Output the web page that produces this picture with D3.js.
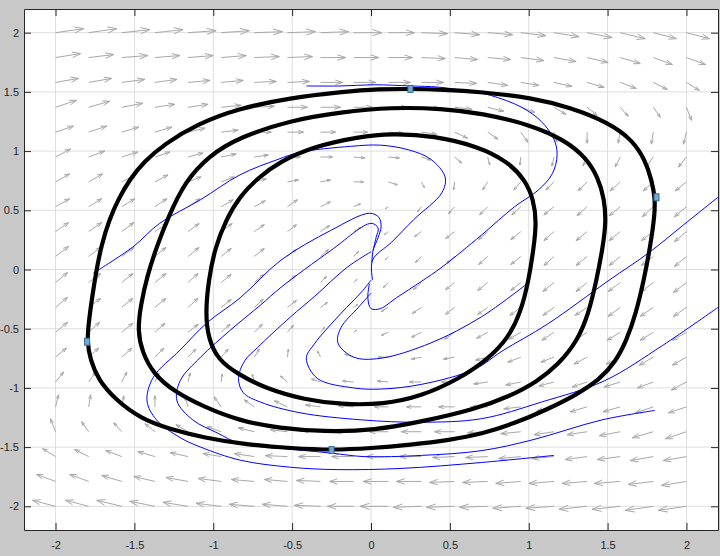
<!DOCTYPE html>
<html>
<head>
<meta charset="utf-8">
<script src="https://cdn.jsdelivr.net/npm/d3@7"></script>
<style>
  body { margin: 0; background: #c8c8c8; }
  text { font-family: "Liberation Sans", Arial, sans-serif; font-size: 11px; fill: #262626; }
</style>
</head>
<body>
<script>
// tick values
var xTicks = [-2, -1.5, -1, -0.5, 0, 0.5, 1, 1.5, 2];
var yTicks = [-2, -1.5, -1, -0.5, 0, 0.5, 1, 1.5, 2];

// quiver grid
var gridX = [-2, -1.79, -1.58, -1.37, -1.16, -0.95, -0.74, -0.53, -0.32, -0.11,
             0.11, 0.32, 0.53, 0.74, 0.95, 1.16, 1.37, 1.58, 1.79, 2];
var gridY = [2, 1.79, 1.58, 1.37, 1.16, 0.95, 0.74, 0.53, 0.32, 0.11,
             -0.11, -0.32, -0.53, -0.74, -0.95, -1.16, -1.37, -1.58, -1.79, -2];

// quiver components, one row per gridY value
var U = [
  [28,28,28,28,28,28,28,28,28,28, 26,26,25,25,25,25,25,25,23,23],
  [25,25,26,25,25,25,25,25,25,25, 24,24,23,23,23,22,21,20,19,19],
  [23,23,23,22,22,22,22,22,22,22, 22,22,22,20,18,18,17,16,14,13],
  [21,21,21,20,20,20,20,20,20,19, 19,18,17,16,14,12,10,8,7,5],
  [18,18,17,17,17,17,17,16,15,14, 15,15,13,10,7,3,0,-2,-2,-3],
  [15,16,16,15,15,15,14,13,12,11, 11,9,7,2,-1,-2,-4,-5,-7,-8],
  [14,14,14,13,13,13,12,11,10,10, 9,3,-1,-5,-7,-8,-9,-10,-10,-11],
  [14,13,13,12,12,12,11,10,10,7, -3,-4,-6,-8,-9,-10,-10,-11,-11,-12],
  [13,13,12,12,11,11,10,9,9,7, -4,-7,-9,-9,-10,-10,-11,-11,-12,-12],
  [13,12,12,11,11,10,10,9,8,5, -3,-6,-8,-9,-10,-10,-11,-11,-12,-12],
  [12,12,11,11,10,10,9,8,6,3, -5,-8,-9,-10,-10,-11,-11,-12,-12,-13],
  [12,12,11,11,10,10,9,9,7,4, -7,-9,-9,-10,-11,-11,-12,-12,-13,-13],
  [12,11,11,10,10,9,8,6,4,3, -7,-10,-10,-11,-12,-12,-12,-13,-13,-14],
  [11,10,10,9,8,7,5,1,-3,-9, -10,-10,-11,-12,-13,-13,-13,-14,-14,-14],
  [8,7,5,4,2,1,-2,-7,-9,-11, -11,-12,-13,-14,-15,-15,-15,-16,-16,-15],
  [3,2,2,0,-3,-7,-10,-13,-15,-15, -14,-15,-16,-17,-17,-17,-17,-17,-18,-18],
  [-5,-7,-8,-10,-12,-14,-16,-17,-18,-19, -19,-20,-20,-20,-20,-20,-20,-21,-21,-21],
  [-13,-14,-16,-17,-18,-18,-20,-22,-22,-22, -22,-22,-22,-22,-22,-22,-22,-23,-23,-23],
  [-19,-19,-20,-21,-22,-23,-23,-23,-24,-24, -25,-25,-25,-25,-25,-25,-25,-26,-25,-25],
  [-23,-23,-25,-25,-25,-25,-25,-25,-26,-26, -28,-28,-28,-28,-28,-28,-28,-28,-28,-28]
];
var V = [
  [4,4,3,3,2,2,1,1,1,0, 0,-1,-2,-2,-3,-4,-5,-6,-6,-6],
  [4,3,2,2,2,2,1,1,0,0, 0,-1,-2,-2,-3,-4,-5,-6,-7,-7],
  [4,4,3,3,2,2,1,1,0,0, 0,0,-1,-3,-3,-4,-5,-6,-7,-8],
  [7,6,4,3,3,2,1,0,0,0, 0,-1,-2,-4,-5,-7,-8,-9,-10,-13],
  [6,6,5,5,4,2,0,0,0,0, -1,-2,-6,-7,-10,-10,-11,-11,-12,-12],
  [8,6,5,5,4,3,2,0,0,-1, -1,-3,-6,-8,-8,-9,-9,-10,-10,-10],
  [8,8,7,7,5,5,3,2,2,0, -3,-6,-8,-8,-8,-8,-9,-9,-9,-9],
  [8,8,8,8,8,7,6,7,5,3, -2,-5,-7,-8,-8,-8,-9,-9,-10,-10],
  [9,9,9,8,8,8,7,7,6,4, -3,-5,-7,-8,-8,-9,-9,-9,-9,-10],
  [10,9,9,9,9,8,8,7,7,5, -3,-6,-7,-8,-8,-9,-9,-9,-9,-10],
  [10,9,9,9,9,8,8,7,6,3, -5,-7,-7,-8,-8,-9,-9,-9,-9,-10],
  [10,9,9,9,9,8,8,7,5,3, -4,-6,-7,-7,-8,-8,-8,-9,-9,-9],
  [10,10,9,9,8,8,8,7,5,2, -3,-5,-7,-6,-7,-8,-8,-8,-8,-8],
  [9,9,9,9,8,8,8,8,6,3, 0,-2,-2,-3,-5,-5,-7,-7,-8,-8],
  [10,10,10,9,9,8,8,6,3,1, 1,0,0,-2,-3,-4,-5,-5,-6,-8],
  [12,12,11,11,10,10,7,6,2,1, 0,0,0,0,-2,-4,-5,-5,-6,-6],
  [13,10,9,8,7,5,4,2,1,0, 0,0,0,-1,-2,-3,-3,-4,-6,-7],
  [8,7,6,5,4,3,3,1,0,0, 0,0,-1,-1,-2,-2,-3,-3,-4,-4],
  [7,7,6,5,4,3,2,2,1,0, 0,0,-1,-1,-2,-2,-2,-2,-3,-4],
  [6,6,6,5,4,3,2,2,1,0, 0,-1,-1,-1,-2,-2,-3,-3,-4,-4]
];

// closed orbits (black)
var outerOrbit = [[0.25,1.525],[0.45,1.52],[0.70,1.50],[1.02,1.45],[1.26,1.37],[1.51,1.24],[1.66,1.09],[1.74,0.92],[1.78,0.75],[1.80,0.61],[1.80,0.47],[1.77,0.19],[1.73,-0.09],[1.68,-0.37],[1.62,-0.60],[1.55,-0.78],[1.45,-0.93],[1.30,-1.06],[1.12,-1.18],[0.91,-1.30],[0.70,-1.39],[0.50,-1.44],[0.25,-1.48],[0.0,-1.51],[-0.25,-1.525],[-0.50,-1.51],[-0.79,-1.48],[-1.06,-1.42],[-1.27,-1.35],[-1.46,-1.26],[-1.62,-1.10],[-1.73,-0.93],[-1.78,-0.76],[-1.80,-0.61],[-1.79,-0.45],[-1.77,-0.25],[-1.74,0.0],[-1.71,0.20],[-1.66,0.42],[-1.60,0.60],[-1.53,0.76],[-1.44,0.91],[-1.31,1.06],[-1.10,1.23],[-0.84,1.36],[-0.51,1.45],[-0.19,1.50],[0.06,1.525]];
var middleOrbit = [[0.13,1.37],[0.45,1.36],[0.70,1.32],[1.02,1.22],[1.23,1.09],[1.36,0.95],[1.44,0.78],[1.48,0.59],[1.49,0.40],[1.47,0.19],[1.43,-0.09],[1.38,-0.37],[1.31,-0.60],[1.19,-0.80],[1.05,-0.95],[0.88,-1.07],[0.66,-1.18],[0.34,-1.28],[0.02,-1.36],[-0.30,-1.37],[-0.58,-1.34],[-0.83,-1.28],[-1.06,-1.16],[-1.25,-1.03],[-1.38,-0.88],[-1.45,-0.70],[-1.48,-0.52],[-1.46,-0.30],[-1.42,-0.06],[-1.36,0.19],[-1.28,0.46],[-1.18,0.74],[-1.03,0.96],[-0.83,1.12],[-0.51,1.26],[-0.19,1.33]];
var innerOrbit = [[-0.08,1.12],[0.13,1.15],[0.40,1.13],[0.68,1.04],[0.87,0.91],[0.98,0.75],[1.03,0.59],[1.05,0.40],[1.03,0.17],[1.00,-0.09],[0.95,-0.36],[0.87,-0.58],[0.74,-0.76],[0.55,-0.93],[0.32,-1.07],[0.08,-1.14],[-0.19,-1.14],[-0.42,-1.10],[-0.66,-1.01],[-0.85,-0.88],[-0.97,-0.76],[-1.03,-0.59],[-1.05,-0.37],[-1.03,-0.09],[-0.99,0.18],[-0.92,0.42],[-0.83,0.62],[-0.72,0.77],[-0.58,0.91],[-0.36,1.04]];

// trajectories (blue)
var trajTop = [[-0.41,1.55],[-0.19,1.55],[0.02,1.56],[0.25,1.55],[0.43,1.54],[0.64,1.50],[0.76,1.47],[0.955,1.37],[1.08,1.25],[1.16,1.10],[1.18,0.97],[1.15,0.81],[1.06,0.67],[0.91,0.53],[0.70,0.29],[0.45,0.02],[0.32,-0.10],[0.16,-0.24],[0.06,-0.33],[0.0,-0.33],[-0.02,-0.24],[-0.01,-0.12]];
var trajLeft = [[-1.76,-0.03],[-1.51,0.19],[-1.34,0.39],[-1.08,0.59],[-0.83,0.80],[-0.59,0.93],[-0.45,0.99],[-0.13,1.04],[0.06,1.05],[0.24,1.01],[0.38,0.93],[0.47,0.78],[0.45,0.65],[0.27,0.42],[0.13,0.23],[0.01,0.08],[0.01,-0.09]];
var trajRight = [[2.2,0.61],[1.975,0.37],[1.76,0.14],[1.51,-0.09],[1.12,-0.46],[0.83,-0.69],[0.66,-0.84],[0.32,-0.97],[0.06,-1.01],[-0.11,-1.00],[-0.34,-0.92],[-0.41,-0.75],[-0.36,-0.63],[-0.19,-0.37],[-0.06,-0.19],[0.0,-0.09]];
var trajMid = [[0.99,-0.12],[0.70,-0.40],[0.38,-0.62],[0.06,-0.75],[-0.11,-0.74],[-0.21,-0.62],[-0.19,-0.49],[-0.08,-0.32],[0.0,-0.20]];
var trajLow1 = [[1.16,-1.57],[0.70,-1.63],[0.19,-1.68],[-0.21,-1.69],[-0.51,-1.67],[-0.83,-1.61],[-1.08,-1.50],[-1.21,-1.42],[-1.36,-1.27],[-1.42,-1.11],[-1.38,-0.91],[-1.21,-0.68],[-1.04,-0.45],[-0.83,-0.24],[-0.57,0.08],[-0.255,0.33],[-0.01,0.475],[0.05,0.44],[0.064,0.36],[0.045,0.27],[0.013,0.16],[0.006,0.06]];
var trajLow2 = [[1.80,-1.19],[1.465,-1.27],[1.02,-1.44],[0.70,-1.53],[0.32,-1.57],[-0.045,-1.58],[-0.255,-1.55],[-0.57,-1.51],[-0.83,-1.47],[-0.975,-1.38],[-1.13,-1.27],[-1.23,-1.11],[-1.21,-0.94],[-1.08,-0.74],[-0.89,-0.51],[-0.70,-0.30],[-0.57,-0.15],[-0.255,0.16],[0.0,0.39],[0.045,0.35],[0.032,0.27],[0.013,0.16]];
var trajLow3 = [[2.2,-0.32],[1.85,-0.64],[1.48,-0.94],[1.08,-1.12],[0.70,-1.26],[0.32,-1.29],[-0.06,-1.27],[-0.45,-1.21],[-0.70,-1.12],[-0.81,-1.04],[-0.84,-0.92],[-0.80,-0.77],[-0.72,-0.66],[-0.51,-0.40],[-0.36,-0.23],[-0.15,0.02],[0.0,0.15]];

// marked points
var markers = [[0.25,1.525],[1.81,0.61],[-1.80,-0.61],[-0.25,-1.525]];

var W = 720, H = 556;
var margin = {left: 24, right: 718, top: 9, bottom: 530};

var x = d3.scaleLinear().domain([-2.2, 2.2]).range([margin.left, margin.right]);
var y = d3.scaleLinear().domain([-2.2, 2.2]).range([margin.bottom, margin.top]);

var svg = d3.select("body").append("svg")
    .attr("width", W)
    .attr("height", H);

svg.append("rect").attr("width", W).attr("height", H).attr("fill", "#c8c8c8");

svg.append("defs").append("clipPath").attr("id", "clip")
  .append("rect")
    .attr("x", margin.left).attr("y", margin.top)
    .attr("width", margin.right - margin.left).attr("height", margin.bottom - margin.top);

svg.append("rect")
    .attr("x", margin.left).attr("y", margin.top)
    .attr("width", margin.right - margin.left).attr("height", margin.bottom - margin.top)
    .attr("fill", "#ffffff");

// grid
var grid = svg.append("g");
grid.selectAll("line.gx").data(xTicks).enter().append("line")
    .attr("x1", function(d) { return x(d); }).attr("x2", function(d) { return x(d); })
    .attr("y1", margin.top).attr("y2", margin.bottom)
    .attr("stroke", "#dedede").attr("stroke-width", 1);
grid.selectAll("line.gy").data(yTicks).enter().append("line")
    .attr("y1", function(d) { return y(d); }).attr("y2", function(d) { return y(d); })
    .attr("x1", margin.left).attr("x2", margin.right)
    .attr("stroke", "#dedede").attr("stroke-width", 1);

var plot = svg.append("g").attr("clip-path", "url(#clip)");

// quiver arrows
var kx = 1 / 157, ky = 1 / 118;
var arrows = [];
gridY.forEach(function(gy, j) {
  gridX.forEach(function(gx, i) {
    arrows.push({x0: gx, y0: gy, x1: gx + U[j][i] * kx, y1: gy + V[j][i] * ky});
  });
});
var alpha = 0.33, beta = 0.33;
var quiver = plot.append("g")
    .attr("stroke", "#a8a8a8").attr("stroke-width", 1).attr("fill", "none");
quiver.selectAll("path").data(arrows).enter().append("path")
    .attr("d", function(d) {
      var ax = x(d.x0), ay = y(d.y0), bx = x(d.x1), by = y(d.y1);
      var u = bx - ax, v = by - ay;
      var h1x = bx - alpha * (u + beta * v), h1y = by - alpha * (v - beta * u);
      var h2x = bx - alpha * (u - beta * v), h2y = by - alpha * (v + beta * u);
      return "M" + ax + "," + ay + "L" + bx + "," + by +
             "M" + h1x + "," + h1y + "L" + bx + "," + by + "L" + h2x + "," + h2y;
    });

// blue trajectories
var openLine = d3.line()
    .x(function(d) { return x(d[0]); })
    .y(function(d) { return y(d[1]); })
    .curve(d3.curveCatmullRom);
[trajTop, trajLeft, trajRight, trajMid, trajLow1, trajLow2, trajLow3].forEach(function(t) {
  plot.append("path")
      .datum(t)
      .attr("d", openLine)
      .attr("fill", "none")
      .attr("stroke", "#0000ff")
      .attr("stroke-width", 1);
});

// black orbits
var closedLine = d3.line()
    .x(function(d) { return x(d[0]); })
    .y(function(d) { return y(d[1]); })
    .curve(d3.curveBasisClosed);
[outerOrbit, middleOrbit, innerOrbit].forEach(function(o) {
  plot.append("path")
      .datum(o)
      .attr("d", closedLine)
      .attr("fill", "none")
      .attr("stroke", "#000000")
      .attr("stroke-width", 4.2)
      .attr("stroke-linejoin", "round");
});

// markers
plot.selectAll("rect.mk").data(markers).enter().append("rect")
    .attr("x", function(d) { return x(d[0]) - 2.5; })
    .attr("y", function(d) { return y(d[1]) - 3.5; })
    .attr("width", 5).attr("height", 7)
    .attr("fill", "#7aa6cc").attr("stroke", "#2f6c9f").attr("stroke-width", 1);

// axes
var fmt = function(d) { return String(d); };
svg.append("g")
    .attr("transform", "translate(0," + margin.bottom + ")")
    .call(d3.axisBottom(x).tickValues(xTicks).tickSizeInner(-7).tickSizeOuter(0).tickPadding(11).tickFormat(fmt));
svg.append("g")
    .attr("transform", "translate(0," + margin.top + ")")
    .call(d3.axisTop(x).tickValues(xTicks).tickSizeInner(-7).tickSizeOuter(0).tickFormat(""));
svg.append("g")
    .attr("transform", "translate(" + margin.left + ",0)")
    .call(d3.axisLeft(y).tickValues(yTicks).tickSizeInner(-7).tickSizeOuter(0).tickPadding(5).tickFormat(fmt));
svg.append("g")
    .attr("transform", "translate(" + margin.right + ",0)")
    .call(d3.axisRight(y).tickValues(yTicks).tickSizeInner(-7).tickSizeOuter(0).tickFormat(""));

svg.selectAll(".domain").attr("stroke", "#262626");
svg.selectAll(".tick line").attr("stroke", "#262626");
svg.selectAll(".tick text").attr("fill", "#262626").style("font-size", "11px")
    .style("font-family", "'Liberation Sans', Arial, sans-serif");
</script>
</body>
</html>
